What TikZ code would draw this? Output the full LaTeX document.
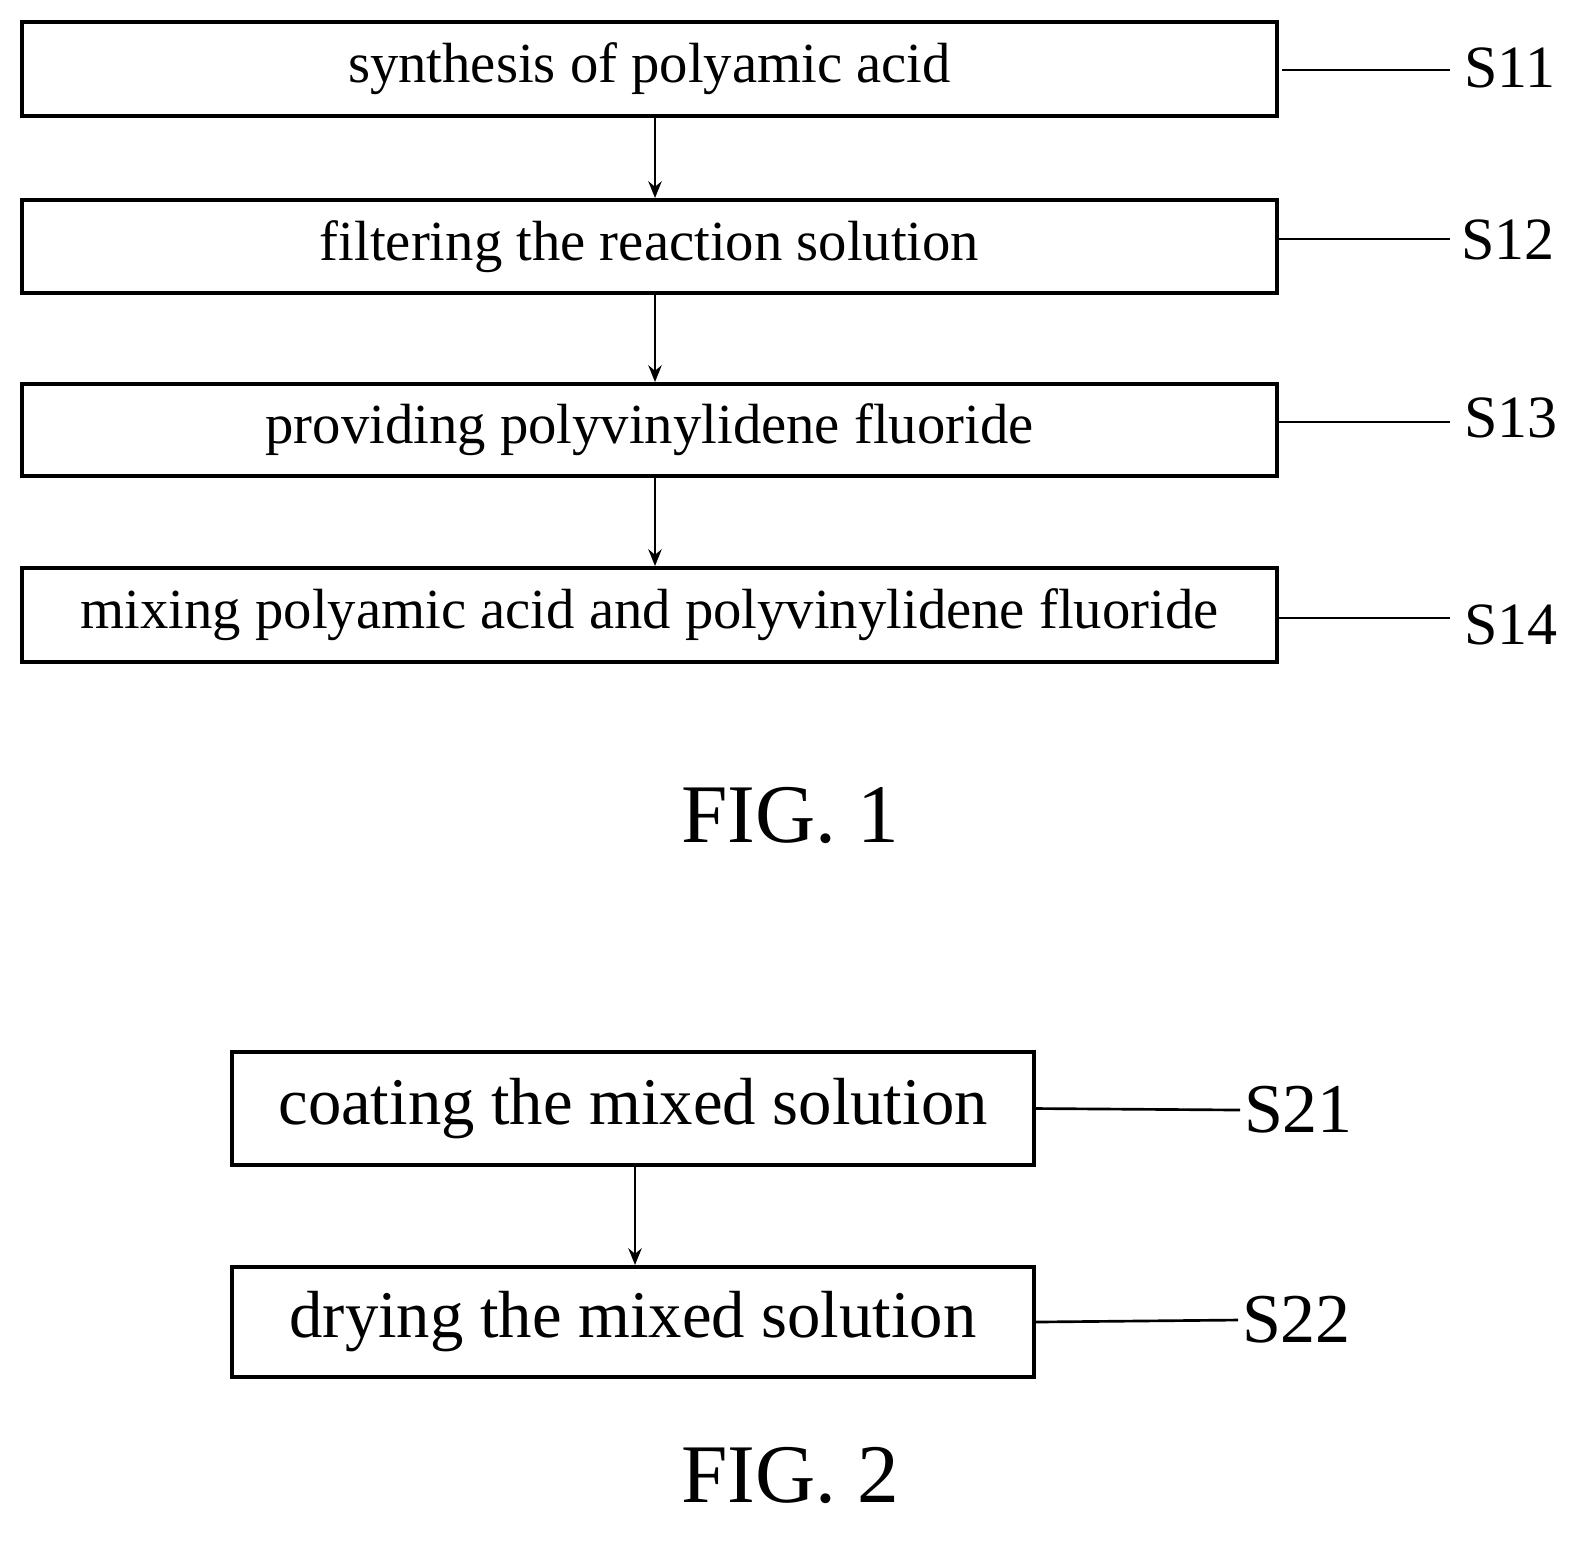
\documentclass[tikz,border=0pt]{standalone}
\usepackage{fontspec}
\setmainfont{Liberation Serif}
\usetikzlibrary{arrows.meta}
\begin{document}
\begin{tikzpicture}[x=0.3pt,y=-0.3pt,
  box/.style={draw,line width=1.2pt,minimum height=#1*0.3pt,inner sep=0pt,font=\fontsize{17}{20}\selectfont},
  lab/.style={font=\fontsize{18}{20}\selectfont,anchor=west,inner sep=1pt},
  fig/.style={font=\fontsize{25}{28}\selectfont},
  arr/.style={-{Stealth[length=5pt,width=4pt]},line width=0.8pt},
  ln/.style={line width=0.8pt}]
\useasboundingbox (0,0) rectangle (1590,1543);
\node[box=94,minimum width=376.5pt] (b1) at (649.5,69) {synthesis of polyamic acid};
\node[box=93,minimum width=376.5pt] (b2) at (649.5,246.5) {filtering the reaction solution};
\node[box=92,minimum width=376.5pt] (b3) at (649.5,430) {providing polyvinylidene fluoride};
\node[box=94,minimum width=376.5pt] (b4) at (649.5,615) {mixing polyamic acid and polyvinylidene fluoride};
\node[lab] (s11) at (1460,68) {S11};
\node[lab] (s12) at (1457,240) {S12};
\node[lab] (s13) at (1460,418) {S13};
\node[lab] (s14) at (1460,625) {S14};
\coordinate (e1) at (1282,70); \coordinate (f1) at (1450,70);
\coordinate (e2) at (1277,239); \coordinate (f2) at (1450,239);
\coordinate (e3) at (1277,422); \coordinate (f3) at (1450,422);
\coordinate (e4) at (1277,618); \coordinate (f4) at (1450,618);
\draw[ln] (e1)--(f1); \draw[ln] (e2)--(f2); \draw[ln] (e3)--(f3); \draw[ln] (e4)--(f4);
\draw[arr] (b1.south -| 655,0) -- (b2.north -| 655,0);
\draw[arr] (b2.south -| 655,0) -- (b3.north -| 655,0);
\draw[arr] (b3.south -| 655,0) -- (b4.north -| 655,0);
\node[fig] (fig1) at (790,815) {FIG. 1};
\node[box=113,minimum width=240.6pt,font=\fontsize{20}{24}\selectfont] (b5) at (633,1108.5) {coating the mixed solution};
\node[box=110,minimum width=240.6pt,font=\fontsize{20}{24}\selectfont] (b6) at (633,1322) {drying the mixed solution};
\node[lab,font=\fontsize{21}{24}\selectfont] (s21) at (1240,1110) {S21};
\node[lab,font=\fontsize{21}{24}\selectfont] (s22) at (1238,1320) {S22};
\draw[ln] (b5.east) -- (s21.west);
\draw[ln] (b6.east) -- (s22.west);
\draw[arr] (b5.south -| 635,0) -- (b6.north -| 635,0);
\node[fig] (fig2) at (790,1475) {FIG. 2};
\end{tikzpicture}
\end{document}
